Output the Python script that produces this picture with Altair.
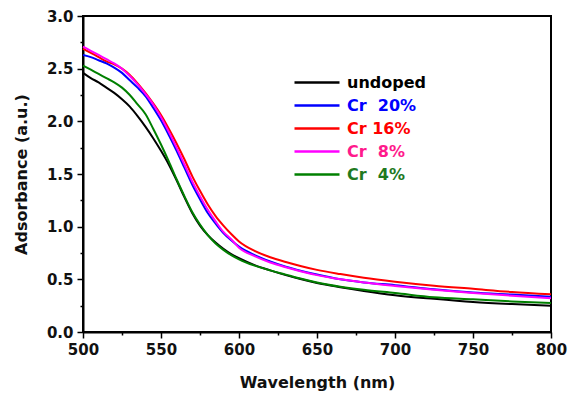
import altair as alt
import pandas as pd

wavelength = [500, 505, 510, 515, 520, 525, 530, 535, 540, 545, 550, 555, 560, 565,
              570, 575, 580, 585, 590, 595, 600, 610, 620, 630, 640, 650, 665, 680,
              700, 725, 750, 775, 800]

undoped = [2.46, 2.41, 2.37, 2.32, 2.27, 2.21, 2.14, 2.05, 1.95, 1.84, 1.72, 1.59, 1.44, 1.28,
           1.13, 1.01, 0.92, 0.85, 0.79, 0.74, 0.70, 0.635, 0.585, 0.54, 0.50, 0.465, 0.425, 0.39,
           0.35, 0.315, 0.285, 0.265, 0.25]
cr20 = [2.63, 2.61, 2.58, 2.55, 2.51, 2.46, 2.39, 2.32, 2.24, 2.13, 2.01, 1.87, 1.72, 1.56,
        1.40, 1.26, 1.13, 1.03, 0.94, 0.87, 0.81, 0.73, 0.67, 0.62, 0.58, 0.545, 0.50, 0.47,
        0.445, 0.405, 0.375, 0.355, 0.335]
cr16 = [2.69, 2.65, 2.61, 2.57, 2.54, 2.50, 2.44, 2.36, 2.27, 2.17, 2.06, 1.93, 1.79, 1.64,
        1.48, 1.34, 1.21, 1.10, 1.01, 0.93, 0.86, 0.77, 0.71, 0.665, 0.625, 0.59, 0.55, 0.515,
        0.478, 0.44, 0.41, 0.38, 0.358]
cr8 = [2.71, 2.67, 2.63, 2.59, 2.55, 2.50, 2.43, 2.35, 2.26, 2.16, 2.04, 1.90, 1.75, 1.59,
       1.43, 1.29, 1.16, 1.05, 0.95, 0.88, 0.80, 0.72, 0.66, 0.615, 0.575, 0.54, 0.50, 0.47,
       0.437, 0.40, 0.37, 0.345, 0.32]
cr4 = [2.53, 2.49, 2.45, 2.41, 2.37, 2.32, 2.25, 2.16, 2.07, 1.93, 1.78, 1.62, 1.45, 1.29,
       1.14, 1.02, 0.92, 0.84, 0.78, 0.73, 0.69, 0.63, 0.585, 0.545, 0.505, 0.47, 0.43, 0.40,
       0.37, 0.33, 0.31, 0.29, 0.275]

NB = "\u00a0"
names = ["undoped", "Cr" + NB + NB + "20%", "Cr" + NB + "16%", "Cr" + NB + NB + "8%", "Cr" + NB + NB + "4%"]
colors = ["#000000", "#0000ff", "#ff0000", "#ff00ff", "#008000"]
series = [undoped, cr20, cr16, cr8, cr4]
draw_order = [0, 2, 1, 3, 4]

rows = []
for name, vals in zip(names, series):
    for w, v in zip(wavelength, vals):
        rows.append({"wavelength": w, "absorbance": v, "sample": name})
df = pd.DataFrame(rows)

FONT = "DejaVu Sans"

x_ticks = list(range(500, 801, 25))
y_ticks = [i * 0.25 for i in range(13)]

color = alt.Color(
    "sample:N",
    scale=alt.Scale(domain=names, range=colors),
    legend=alt.Legend(
        title=None,
        orient="none",
        legendX=210,
        legendY=55,
        symbolType="stroke",
        symbolSize=2025,
        symbolStrokeWidth=2.5,
        clipHeight=23,
        rowPadding=0,
        padding=0,
        labelOffset=6,
        labelFont=FONT,
        labelFontSize=16,
        labelFontWeight="bold",
        labelColor={"expr": "indexof(datum.label, '8%') >= 0 ? '#ff1a8c' : (indexof(datum.label, '4%') >= 0 ? '#1f7a1f' : scale('color', datum.value))"},
        labelLimit=200,
    ),
)

x = alt.X(
    "wavelength:Q",
    scale=alt.Scale(domain=[500, 800], nice=False, zero=False),
    axis=alt.Axis(
        title="Wavelength (nm)",
        values=x_ticks,
        labelExpr="datum.value % 50 === 0 ? datum.label : ''",
        format="d",
        grid=False,
        tickSize=6,
        tickWidth=1.5,
        tickColor="#000",
        tickDash={"condition": {"test": "datum.value % 50 === 0", "value": [20, 1]}, "value": [3, 20]},
        domainColor="#000",
        domainWidth=2,
        labelFont=FONT,
        labelFontSize=15,
        labelFontWeight="bold",
        labelColor="#111",
        labelPadding=4,
        labelFlush=False,
        titleFont=FONT,
        titleFontSize=16,
        titleFontWeight="bold",
        titleColor="#111",
        titlePadding=17,
    ),
)

y = alt.Y(
    "absorbance:Q",
    scale=alt.Scale(domain=[0, 3], nice=False),
    axis=alt.Axis(
        title="Adsorbance (a.u.)",
        values=y_ticks,
        labelExpr="datum.value % 0.5 === 0 ? format(datum.value, '.1f') : ''",
        grid=False,
        tickSize=6,
        tickWidth=1.5,
        tickColor="#000",
        tickDash={"condition": {"test": "datum.value % 0.5 === 0", "value": [20, 1]}, "value": [3, 20]},
        domainColor="#000",
        domainWidth=2,
        labelFont=FONT,
        labelFontSize=15,
        labelFontWeight="bold",
        labelColor="#111",
        labelPadding=4,
        labelFlush=False,
        titleFont=FONT,
        titleFontSize=16,
        titleFontWeight="bold",
        titleColor="#111",
        titlePadding=17,
    ),
)

base = alt.Chart(df).mark_line(strokeWidth=2, interpolate="monotone").encode(x=x, y=y, color=color)

layers = [base.transform_filter(alt.datum.sample == names[i]) for i in draw_order]

chart = alt.layer(*layers).properties(
    width=468,
    height=316,
    autosize="none",
    padding={"left": 83, "top": 16, "right": 23, "bottom": 62},
    background="white",
).configure_view(stroke="#000", strokeWidth=2)

chart.save("out.html", embed_options={"renderer": "svg", "actions": False})
